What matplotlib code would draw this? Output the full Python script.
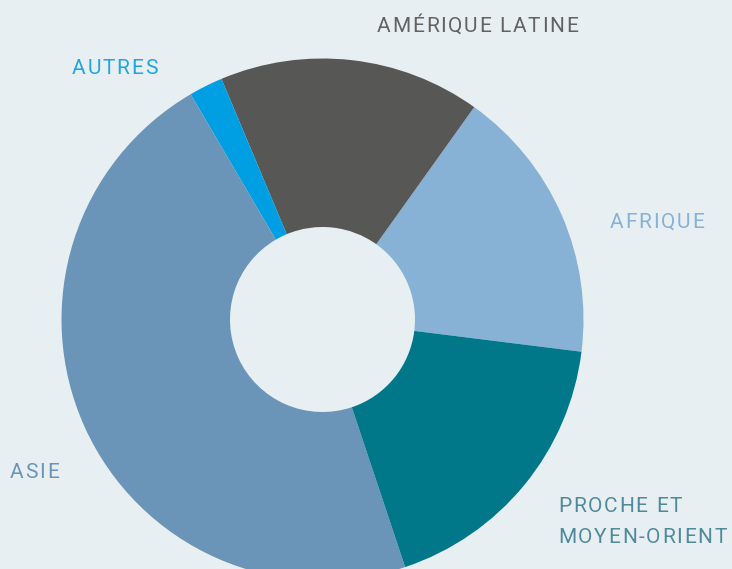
import matplotlib
matplotlib.use('Agg')
import matplotlib.pyplot as plt

# parts of the donut, counterclockwise from the Afrique / Proche border
regions = ['AFRIQUE', 'AMÉRIQUE LATINE', 'AUTRES', 'ASIE', 'PROCHE ET\nMOYEN-ORIENT']
shares = [17.1, 16.2, 2.1, 46.7, 17.9]
colors = ['#87b1d5', '#575756', '#009fe3', '#6b95b8', '#00788a']
label_colors = ['#87b1d5', '#626262', '#1ea5e2', '#6b95b8', '#4f8a9b']
# label anchor (left, baseline of first line) in pixels from the top-left
label_pos = [(610, 228), (377, 31.5), (72, 74), (10, 478), (558, 512)]

W, H = 732, 569
bg = '#e8eff3'
track = 1.7  # extra px between letters

fig = plt.figure(figsize=(W / 100, H / 100), dpi=100, facecolor=bg)
ax = fig.add_axes([0, 0, 1, 1])
ax.set_facecolor(bg)

ax.pie(shares, colors=colors, startangle=-7.1, counterclock=True,
       radius=261, center=(322.5, H - 319.5), frame=True,
       wedgeprops=dict(width=168.5, edgecolor='none', linewidth=0))

ax.set_xlim(0, W)
ax.set_ylim(0, H)
ax.set_aspect('equal')
ax.axis('off')

renderer = fig.canvas.get_renderer()
fontkw = dict(fontsize=15, family='Roboto', fontweight='normal')


def text_w(s):
    t = fig.text(0, 0, s, **fontkw)
    w = t.get_window_extent(renderer).width
    t.remove()
    return w


def spaced_text(x, y, s, color):
    # draw letter by letter so the label gets some tracking
    wi = text_w('I')
    for k, ch in enumerate(s):
        if ch == ' ':
            continue
        dx = text_w(s[:k] + 'I') - wi if k > 0 else 0
        ax.text(x + dx + k * track, y, ch, color=color, ha='left',
                va='baseline', **fontkw)


for name, col, (px, py) in zip(regions, label_colors, label_pos):
    for i, line in enumerate(name.split('\n')):
        spaced_text(px, H - py - i * 31, line, col)

fig.savefig('out.png', dpi=100, facecolor=bg)
